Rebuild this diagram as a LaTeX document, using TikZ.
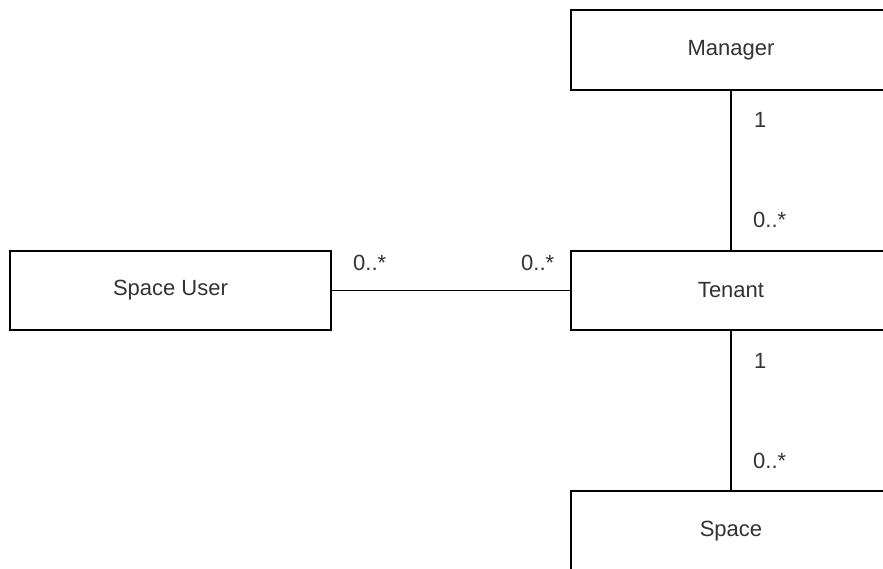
\documentclass[tikz,border=0pt]{standalone}
\usepackage{fontspec}
\setmainfont{Liberation Sans}
\definecolor{txt}{HTML}{333333}
\begin{document}
\begin{tikzpicture}[x=1pt,y=-1pt,
  cls/.style={draw=black, line width=1.4pt, fill=white, inner sep=0pt, text=txt,
    font=\fontsize{22}{26}\selectfont},
  mult/.style={text=txt, inner sep=0pt, anchor=base west, font=\fontsize{22}{26}\selectfont},
  assoc/.style={draw=black, line width=1.4pt}]
\useasboundingbox (0,0) rectangle (883,569);
\clip (0,0) rectangle (883,569);
\node[cls, minimum width=320pt, minimum height=80pt] (manager) at (731,50) {Manager};
\node[cls, minimum width=320pt, minimum height=79pt] (tenant) at (731,290.5) {Tenant};
\node[cls, minimum width=321pt, minimum height=79pt] (user) at (170.5,290.5) {Space User};
\node[cls, minimum width=320pt, minimum height=80pt] (space) at (731,531) {Space};
\draw[assoc] (manager.south) -- (tenant.north);
\draw[assoc] (tenant.south) -- (space.north);
\draw[assoc] (user.east) -- (tenant.west);
\node[mult] (m1) at (754,128) {1};
\node[mult] (m2) at (753,228) {0..*};
\node[mult] (m3) at (754,368) {1};
\node[mult] (m4) at (753,468) {0..*};
\node[mult] (m5) at (353,270) {0..*};
\node[mult] (m6) at (521,270) {0..*};
\end{tikzpicture}
\end{document}
